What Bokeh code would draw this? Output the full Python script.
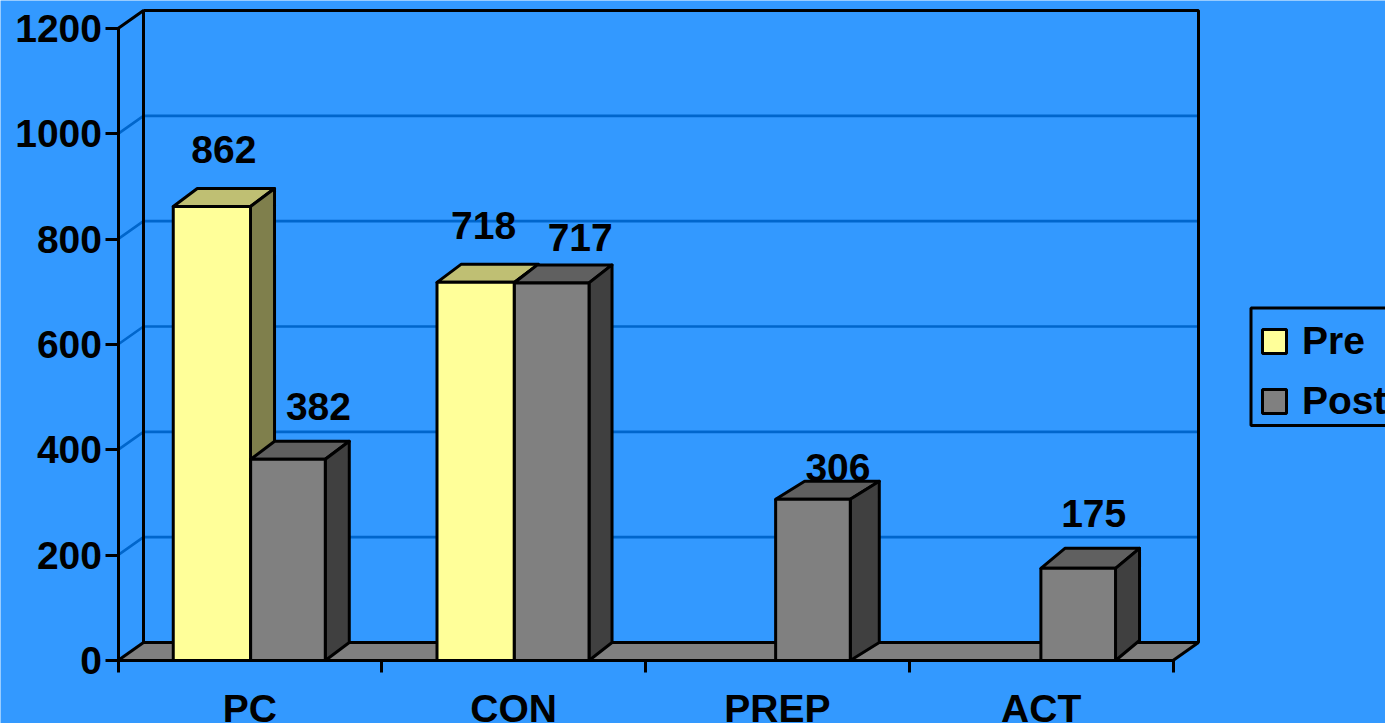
from bokeh.embed import file_html
from bokeh.resources import INLINE
from bokeh.plotting import figure
from bokeh.models import (ColumnDataSource, FixedTicker, Legend, LegendItem, LinearAxis, Range1d)
from bokeh.core.properties import value

categories = ["PC", "CON", "PREP", "ACT"]
pre_values = [862, 718, None, None]
post_values = [382, 717, 306, 175]
y_ticks = [0, 200, 400, 600, 800, 1000, 1200]

# layout constants (pixels)
W, H = 1385, 723
PX_X = 263.75          # pixels per category
PX_Y = 632 / 1200      # pixels per value unit
LEFT, BASE = 117.5, 660  # where the origin sits in the figure
BG, GRID, INK = "#3399FF", "#0066CC", "#000000"
FONT = value("Liberation Sans")
FS = "39px"
LW = 3

n = len(categories)
p = figure(width=W, height=H, output_backend="svg", toolbar_location=None, min_border=0,
           x_range=Range1d(-LEFT / PX_X, (W - LEFT) / PX_X),
           y_range=Range1d(-(H - BASE) / PX_Y, BASE / PX_Y),
           x_axis_type=None, y_axis_type=None)
p.background_fill_color = BG
p.border_fill_color = BG
p.outline_line_color = None
p.grid.visible = False

wall_dx, wall_dy = 25.5 / PX_X, 18 / PX_Y
top = y_ticks[-1]

# floor
p.patch([0, n, n + wall_dx, wall_dx], [0, 0, wall_dy, wall_dy], fill_color="#808080", line_color=None)
# gridlines on side wall and back wall
for v in y_ticks[1:-1]:
    p.line([0, wall_dx, n + wall_dx], [v, v + wall_dy, v + wall_dy], line_color=GRID, line_width=2.6)
# walls
p.line([0, wall_dx, wall_dx, n + wall_dx, n + wall_dx, wall_dx],
       [top, top + wall_dy, wall_dy, wall_dy, top + wall_dy, top + wall_dy], line_color=INK, line_width=LW)
p.line([0, wall_dx], [0, wall_dy], line_color=INK, line_width=LW)
p.line([n, n + wall_dx], [0, wall_dy], line_color=INK, line_width=LW)


def bar_3d(vals, offset, w, nudge_px, depth_px, rise_px, fill, top_fill, side_fill):
    idx = [i for i, v in enumerate(vals) if v is not None]
    centers = [i + offset + nudge_px[i] / PX_X for i in idx]
    src = ColumnDataSource(dict(x=centers, top=[vals[i] for i in idx]))
    xs_t, ys_t, xs_s, ys_s = [], [], [], []
    for c, i in zip(centers, idx):
        l, r, v = c - w / 2, c + w / 2, vals[i]
        dx, dy = depth_px[i] / PX_X, rise_px[i] / PX_Y
        xs_t.append([l, r, r + dx, l + dx]); ys_t.append([v, v, v + dy, v + dy])
        xs_s.append([r, r + dx, r + dx, r]); ys_s.append([0, dy, v + dy, v])
    p.patches(xs_t, ys_t, fill_color=top_fill, line_color=INK, line_width=LW, line_join="round")
    p.patches(xs_s, ys_s, fill_color=side_fill, line_color=INK, line_width=LW, line_join="round")
    return p.vbar(x="x", top="top", bottom=0, width=w, source=src, fill_color=fill,
                  line_color=INK, line_width=LW)


r_pre = bar_3d(pre_values, 0.356, 0.293, [0, 0, 0, 0], [24, 24, 0, 0], [18, 18, 0, 0],
               "#FFFF99", "#BFBF73", "#7F7F4C")
r_post = bar_3d(post_values, 0.6425, 0.283, [0.5, 0.5, -2, -0.5], [24, 23, 29, 24], [18, 18, 18, 20],
                "#808080", "#606060", "#404040")

# data labels
lab_x = [i + 0.356 for i, v in enumerate(pre_values) if v is not None] + [i + 0.6425 for i in range(n)]
lab_y = [v for v in pre_values if v is not None] + post_values
lab_t = [str(v) for v in lab_y]
lab_dx = [12, 8, 31, 29, 23, 15]
lab_dy = [-57, -57, -53, -45, -32, -55]
p.text(lab_x, lab_y, text=lab_t, x_offset=lab_dx, y_offset=lab_dy, text_align="center",
       text_baseline="alphabetic", text_color=INK, text_font=FONT, text_font_style="bold", text_font_size=FS)

# axes
yax = LinearAxis(fixed_location=0, bounds=(0, top), ticker=FixedTicker(ticks=y_ticks))
yax.axis_line_color = INK
yax.axis_line_width = LW
yax.major_tick_line_color = INK
yax.major_tick_line_width = LW
yax.major_tick_in = 0
yax.major_tick_out = 13
yax.minor_tick_line_color = None
yax.major_label_standoff = 3
yax.major_label_text_font = "Liberation Sans"
yax.major_label_text_font_style = "bold"
yax.major_label_text_font_size = FS
yax.major_label_text_color = INK
p.add_layout(yax, "left")

xax = LinearAxis(fixed_location=0, bounds=(0, n),
                 ticker=FixedTicker(ticks=[i + 0.5 for i in range(n)], minor_ticks=list(range(n + 1))),
                 major_label_overrides={i + 0.5: c for i, c in enumerate(categories)})
xax.axis_line_color = INK
xax.axis_line_width = LW
xax.major_tick_line_color = None
xax.major_tick_in = 0
xax.major_tick_out = 0
xax.minor_tick_line_color = INK
xax.minor_tick_line_width = LW
xax.minor_tick_in = 0
xax.minor_tick_out = 12
xax.major_label_standoff = 14
xax.major_label_text_font = "Liberation Sans"
xax.major_label_text_font_style = "bold"
xax.major_label_text_font_size = FS
xax.major_label_text_color = INK
p.add_layout(xax, "below")

# legend frame, then a legend whose rows line up inside it
def px_x(px): return (px - LEFT) / PX_X
def px_y(px): return (BASE - px) / PX_Y
p.quad(left=[px_x(1250.5)], right=[px_x(W + 20)], top=[px_y(307.5)], bottom=[px_y(425)],
       fill_color=BG, line_color=INK, line_width=LW)

legend = Legend(items=[LegendItem(label="Pre", renderers=[r_pre]), LegendItem(label="Post", renderers=[r_post])],
                location=(1259, H - 423), orientation="vertical", margin=0, padding=13, spacing=16,
                glyph_width=30, glyph_height=30, label_standoff=13,
                background_fill_alpha=0, border_line_color=None,
                label_text_font="Liberation Sans", label_text_font_style="bold",
                label_text_font_size=FS, label_text_color=INK)
p.add_layout(legend, "center")

open("out.html", "w").write(file_html(p, INLINE))
